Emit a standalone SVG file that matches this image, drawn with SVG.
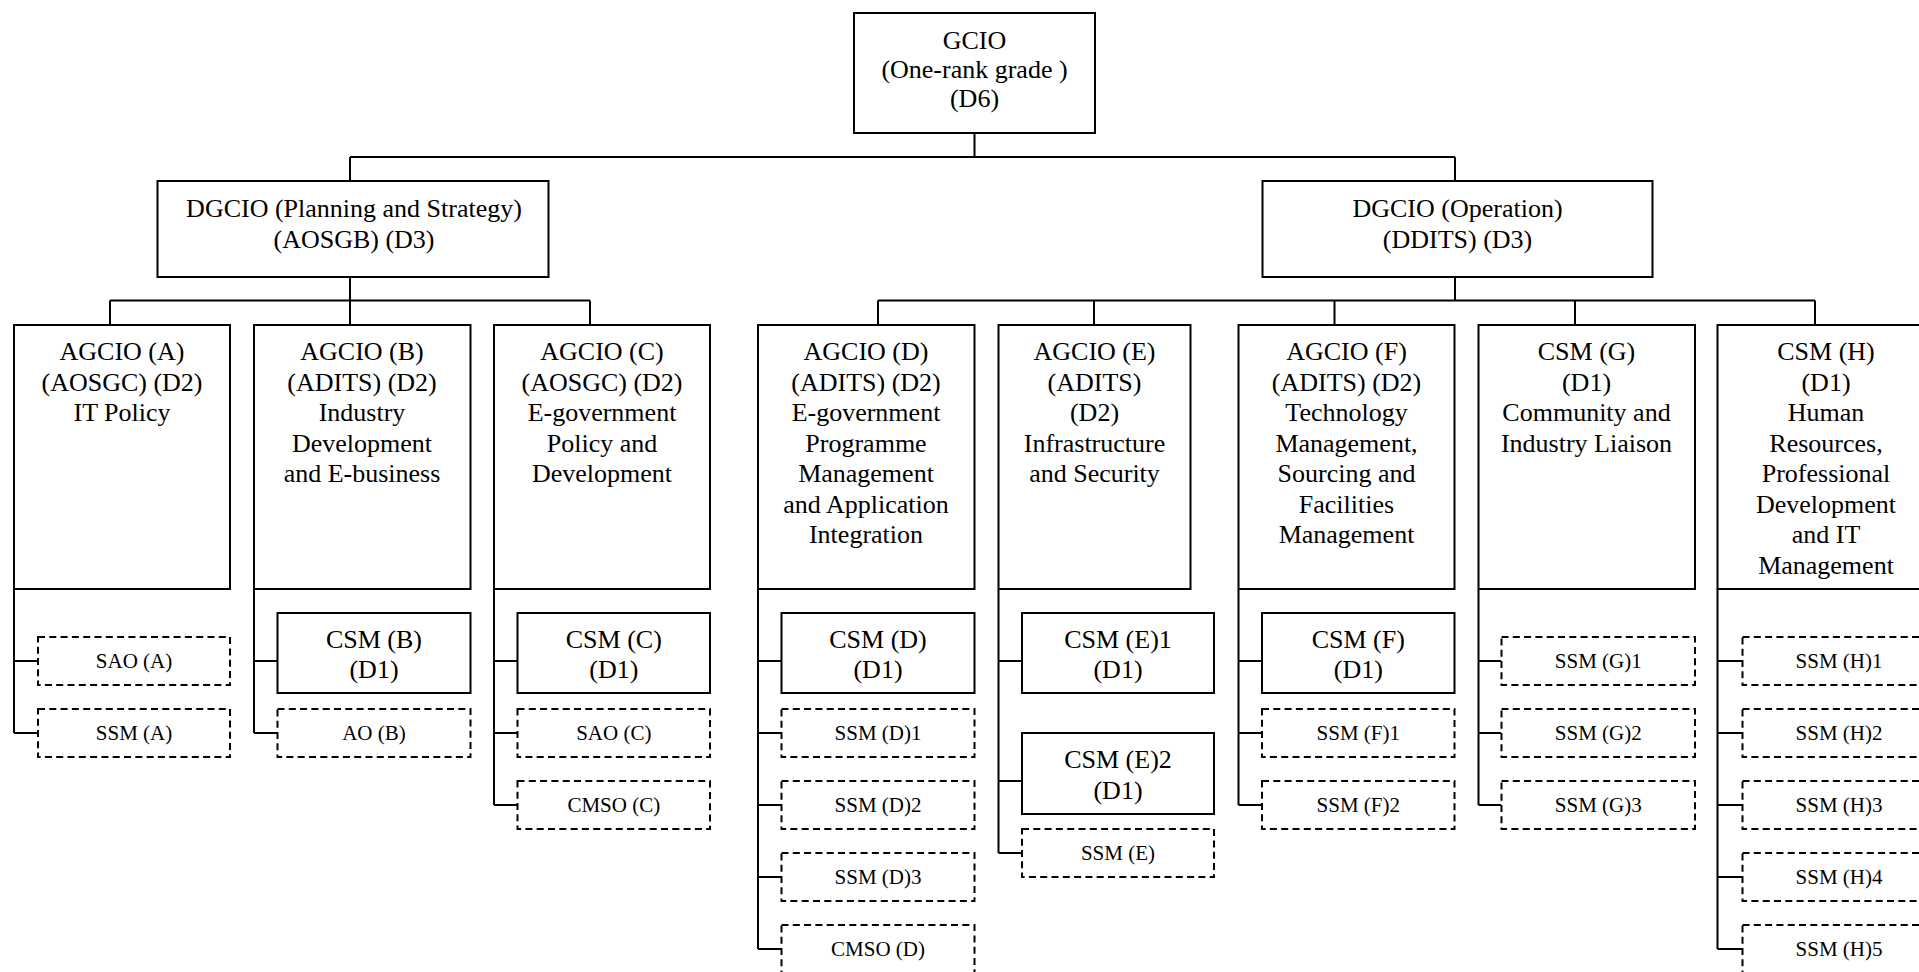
<svg xmlns="http://www.w3.org/2000/svg" width="1919" height="972" viewBox="0 0 1919 972">
<style>
.box{fill:#fff;stroke:#000;stroke-width:2}
.dash{fill:#fff;stroke:#000;stroke-width:2;stroke-dasharray:7 4.3}
text{font-family:"Liberation Serif","Times New Roman",serif;font-size:26px;text-anchor:middle;fill:#000}
text.s{font-size:21px}
#connectors path{fill:none;stroke:#000;stroke-width:2}
</style>
<rect width="1919" height="972" fill="#fff"/>
<g id="connectors">
<path d="M974.5 133V157M350 157H1455M350 157V181M1455 157V181"/>
<path d="M350 277V300.5M110 300.5H590M110 300.5V325M350 300.5V325M590 300.5V325"/>
<path d="M1455 277V300.5M878 300.5H1815M878 300.5V325M1094 300.5V325M1334.5 300.5V325M1575 300.5V325M1815 300.5V325"/>
<path d="M14 589V733M14 661H38M14 733H38"/>
<path d="M254 589V733M254 661H277.5M254 733H277.5"/>
<path d="M494 589V805M494 661H517.5M494 733H517.5M494 805H517.5"/>
<path d="M758 589V949M758 661H781.5M758 733H781.5M758 805H781.5M758 877H781.5M758 949H781.5"/>
<path d="M998.5 589V853M998.5 661H1022M998.5 781H1022M998.5 853H1022"/>
<path d="M1238.5 589V805M1238.5 661H1262M1238.5 733H1262M1238.5 805H1262"/>
<path d="M1478.5 589V805M1478.5 661H1501.5M1478.5 733H1501.5M1478.5 805H1501.5"/>
<path d="M1717.5 589V949M1717.5 661H1742.5M1717.5 733H1742.5M1717.5 805H1742.5M1717.5 877H1742.5M1717.5 949H1742.5"/>
</g>
<g id="gcio"><rect class="box" x="854" y="13" width="241" height="120"/>
<text x="974.5" y="48.5">GCIO</text><text x="974.5" y="78">(One-rank grade )</text><text x="974.5" y="107">(D6)</text></g>
<g id="dgcio-ps"><rect class="box" x="157.5" y="181" width="391" height="96"/>
<text x="354" y="217">DGCIO (Planning and Strategy)</text><text x="354" y="247.5">(AOSGB) (D3)</text></g>
<g id="dgcio-op"><rect class="box" x="1262.5" y="181" width="390" height="96"/>
<text x="1457.5" y="217">DGCIO (Operation)</text><text x="1457.5" y="247.5">(DDITS) (D3)</text></g>
<g id="agcio-a"><rect class="box" x="14" y="325" width="216" height="264"/>
<text x="122" y="360">AGCIO (A)</text><text x="122" y="390.5">(AOSGC) (D2)</text><text x="122" y="421">IT Policy</text></g>
<g id="agcio-b"><rect class="box" x="254" y="325" width="216.5" height="264"/>
<text x="362" y="360">AGCIO (B)</text><text x="362" y="390.5">(ADITS) (D2)</text><text x="362" y="421">Industry</text><text x="362" y="451.5">Development</text><text x="362" y="482">and E-business</text></g>
<g id="agcio-c"><rect class="box" x="494" y="325" width="216" height="264"/>
<text x="602" y="360">AGCIO (C)</text><text x="602" y="390.5">(AOSGC) (D2)</text><text x="602" y="421">E-government</text><text x="602" y="451.5">Policy and</text><text x="602" y="482">Development</text></g>
<g id="agcio-d"><rect class="box" x="758" y="325" width="216.5" height="264"/>
<text x="866" y="360">AGCIO (D)</text><text x="866" y="390.5">(ADITS) (D2)</text><text x="866" y="421">E-government</text><text x="866" y="451.5">Programme</text><text x="866" y="482">Management</text><text x="866" y="512.5">and Application</text><text x="866" y="543">Integration</text></g>
<g id="agcio-e"><rect class="box" x="998.5" y="325" width="192" height="264"/>
<text x="1094.5" y="360">AGCIO (E)</text><text x="1094.5" y="390.5">(ADITS)</text><text x="1094.5" y="421">(D2)</text><text x="1094.5" y="451.5">Infrastructure</text><text x="1094.5" y="482">and Security</text></g>
<g id="agcio-f"><rect class="box" x="1238.5" y="325" width="216" height="264"/>
<text x="1346.5" y="360">AGCIO (F)</text><text x="1346.5" y="390.5">(ADITS) (D2)</text><text x="1346.5" y="421">Technology</text><text x="1346.5" y="451.5">Management,</text><text x="1346.5" y="482">Sourcing and</text><text x="1346.5" y="512.5">Facilities</text><text x="1346.5" y="543">Management</text></g>
<g id="csm-g"><rect class="box" x="1478.5" y="325" width="216.5" height="264"/>
<text x="1586.5" y="360">CSM (G)</text><text x="1586.5" y="390.5">(D1)</text><text x="1586.5" y="421">Community and</text><text x="1586.5" y="451.5">Industry Liaison</text></g>
<g id="csm-h"><rect class="box" x="1717.5" y="325" width="217" height="264"/>
<text x="1826" y="360">CSM (H)</text><text x="1826" y="390.5">(D1)</text><text x="1826" y="421">Human</text><text x="1826" y="451.5">Resources,</text><text x="1826" y="482">Professional</text><text x="1826" y="512.5">Development</text><text x="1826" y="543">and IT</text><text x="1826" y="573.5">Management</text></g>
<g id="sao-a"><rect class="dash" x="38" y="637" width="192" height="48"/><text class="s" x="134" y="668.3">SAO (A)</text></g>
<g id="ssm-a"><rect class="dash" x="38" y="709" width="192" height="48"/><text class="s" x="134" y="740.3">SSM (A)</text></g>
<g id="csm-b"><rect class="box" x="277.5" y="613" width="193" height="80"/><text x="374" y="647.5">CSM (B)</text><text x="374" y="678">(D1)</text></g>
<g id="ao-b"><rect class="dash" x="277.5" y="709" width="193" height="48"/><text class="s" x="374" y="740.3">AO (B)</text></g>
<g id="csm-c"><rect class="box" x="517.5" y="613" width="192.5" height="80"/><text x="613.8" y="647.5">CSM (C)</text><text x="613.8" y="678">(D1)</text></g>
<g id="sao-c"><rect class="dash" x="517.5" y="709" width="192.5" height="48"/><text class="s" x="613.8" y="740.3">SAO (C)</text></g>
<g id="cmso-c"><rect class="dash" x="517.5" y="781" width="192.5" height="48"/><text class="s" x="613.8" y="812.3">CMSO (C)</text></g>
<g id="csm-d"><rect class="box" x="781.5" y="613" width="193" height="80"/><text x="878" y="647.5">CSM (D)</text><text x="878" y="678">(D1)</text></g>
<g id="ssm-d1"><rect class="dash" x="781.5" y="709" width="193" height="48"/><text class="s" x="878" y="740.3">SSM (D)1</text></g>
<g id="ssm-d2"><rect class="dash" x="781.5" y="781" width="193" height="48"/><text class="s" x="878" y="812.3">SSM (D)2</text></g>
<g id="ssm-d3"><rect class="dash" x="781.5" y="853" width="193" height="48"/><text class="s" x="878" y="884.3">SSM (D)3</text></g>
<g id="cmso-d"><rect class="dash" x="781.5" y="925" width="193" height="48"/><text class="s" x="878" y="956.3">CMSO (D)</text></g>
<g id="csm-e1"><rect class="box" x="1022" y="613" width="192" height="80"/><text x="1118" y="647.5">CSM (E)1</text><text x="1118" y="678">(D1)</text></g>
<g id="csm-e2"><rect class="box" x="1022" y="733" width="192" height="81"/><text x="1118" y="768">CSM (E)2</text><text x="1118" y="798.5">(D1)</text></g>
<g id="ssm-e"><rect class="dash" x="1022" y="829" width="192" height="48"/><text class="s" x="1118" y="860.3">SSM (E)</text></g>
<g id="csm-f"><rect class="box" x="1262" y="613" width="192.5" height="80"/><text x="1358.3" y="647.5">CSM (F)</text><text x="1358.3" y="678">(D1)</text></g>
<g id="ssm-f1"><rect class="dash" x="1262" y="709" width="192.5" height="48"/><text class="s" x="1358.3" y="740.3">SSM (F)1</text></g>
<g id="ssm-f2"><rect class="dash" x="1262" y="781" width="192.5" height="48"/><text class="s" x="1358.3" y="812.3">SSM (F)2</text></g>
<g id="ssm-g1"><rect class="dash" x="1501.5" y="637" width="193.5" height="48"/><text class="s" x="1598.3" y="668.3">SSM (G)1</text></g>
<g id="ssm-g2"><rect class="dash" x="1501.5" y="709" width="193.5" height="48"/><text class="s" x="1598.3" y="740.3">SSM (G)2</text></g>
<g id="ssm-g3"><rect class="dash" x="1501.5" y="781" width="193.5" height="48"/><text class="s" x="1598.3" y="812.3">SSM (G)3</text></g>
<g id="ssm-h1"><rect class="dash" x="1742.5" y="637" width="193" height="48"/><text class="s" x="1839" y="668.3">SSM (H)1</text></g>
<g id="ssm-h2"><rect class="dash" x="1742.5" y="709" width="193" height="48"/><text class="s" x="1839" y="740.3">SSM (H)2</text></g>
<g id="ssm-h3"><rect class="dash" x="1742.5" y="781" width="193" height="48"/><text class="s" x="1839" y="812.3">SSM (H)3</text></g>
<g id="ssm-h4"><rect class="dash" x="1742.5" y="853" width="193" height="48"/><text class="s" x="1839" y="884.3">SSM (H)4</text></g>
<g id="ssm-h5"><rect class="dash" x="1742.5" y="925" width="193" height="48"/><text class="s" x="1839" y="956.3">SSM (H)5</text></g>
</svg>
